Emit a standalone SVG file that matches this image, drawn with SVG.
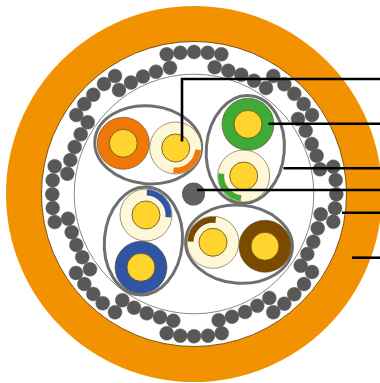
<svg xmlns="http://www.w3.org/2000/svg" width="380" height="383" viewBox="0 0 380 383">
<style>
.strand{fill:#585856;stroke:#6a6a68;stroke-width:.4}
.core{fill:#ffd42e;stroke:#5c4a1c;stroke-width:.8}
.pale{fill:#fff8d8;stroke:#5c5232;stroke-width:.6}
.sheath{fill:#fff;stroke:#6f6f6f;stroke-width:3}
.solid{stroke:#5c4a1c;stroke-width:.6}
.band{fill:none;stroke-width:6}
.leader{fill:none;stroke:#000;stroke-width:2.6}
</style>
<g id="jacket">
<circle cx="194" cy="194" r="188" fill="#f39200"/>
<circle cx="194" cy="194" r="152.5" fill="#fff" stroke="#5a3a08" stroke-width=".8"/>
<circle cx="194" cy="194" r="119.8" fill="none" stroke="#7a7a7a" stroke-width=".9"/>
</g>
<g id="shield">
<circle class="strand" cx="166.7" cy="54.3" r="7"/><circle class="strand" cx="180.3" cy="52.7" r="7"/><circle class="strand" cx="194" cy="52" r="7"/><circle class="strand" cx="207.7" cy="52.7" r="7"/><circle class="strand" cx="221.3" cy="54.3" r="7"/>
<circle class="strand" cx="214.7" cy="67.3" r="7"/><circle class="strand" cx="228.3" cy="70.7" r="7"/><circle class="strand" cx="241.3" cy="74.7" r="7"/><circle class="strand" cx="254" cy="80.7" r="7"/><circle class="strand" cx="266" cy="88" r="7"/>
<circle class="strand" cx="273.3" cy="76" r="7"/><circle class="strand" cx="284.3" cy="84.3" r="7"/><circle class="strand" cx="294.3" cy="93.7" r="7"/><circle class="strand" cx="303.7" cy="104" r="7"/><circle class="strand" cx="312" cy="115" r="7"/>
<circle class="strand" cx="298" cy="119" r="7"/><circle class="strand" cx="305.7" cy="130.7" r="7"/><circle class="strand" cx="311.7" cy="144" r="7"/><circle class="strand" cx="316.7" cy="155.7" r="7"/><circle class="strand" cx="320" cy="169.3" r="7"/>
<circle class="strand" cx="333.3" cy="166.7" r="7"/><circle class="strand" cx="335.7" cy="180" r="7"/><circle class="strand" cx="336.3" cy="194.3" r="7"/><circle class="strand" cx="335" cy="208.3" r="7"/><circle class="strand" cx="333.3" cy="221.7" r="7"/>
<circle class="strand" cx="320.7" cy="214.3" r="7"/><circle class="strand" cx="317.7" cy="228.3" r="7"/><circle class="strand" cx="313.3" cy="241.7" r="7"/><circle class="strand" cx="307.3" cy="254" r="7"/><circle class="strand" cx="300.7" cy="265.7" r="7"/>
<circle class="strand" cx="312" cy="272" r="7"/><circle class="strand" cx="304" cy="284" r="7"/><circle class="strand" cx="294.3" cy="294.3" r="7"/><circle class="strand" cx="284.3" cy="303.7" r="7"/><circle class="strand" cx="273.3" cy="312.3" r="7"/>
<circle class="strand" cx="269.3" cy="298" r="7"/><circle class="strand" cx="257.3" cy="305.7" r="7"/><circle class="strand" cx="245" cy="312" r="7"/><circle class="strand" cx="232" cy="316.7" r="7"/><circle class="strand" cx="218.7" cy="320.3" r="7"/>
<circle class="strand" cx="221.7" cy="333.3" r="7"/><circle class="strand" cx="208" cy="335.7" r="7"/><circle class="strand" cx="194" cy="336.3" r="7"/><circle class="strand" cx="180.3" cy="335.7" r="7"/><circle class="strand" cx="166.7" cy="333.3" r="7"/>
<circle class="strand" cx="173.3" cy="320.7" r="7"/><circle class="strand" cx="160" cy="317.3" r="7"/><circle class="strand" cx="146.7" cy="313.3" r="7"/><circle class="strand" cx="134" cy="307.7" r="7"/><circle class="strand" cx="122.3" cy="300.3" r="7"/>
<circle class="strand" cx="115" cy="312.3" r="7"/><circle class="strand" cx="102.7" cy="303.3" r="7"/><circle class="strand" cx="93.3" cy="294" r="7"/><circle class="strand" cx="84.3" cy="284" r="7"/><circle class="strand" cx="76" cy="273" r="7"/>
<circle class="strand" cx="90" cy="269.3" r="7"/><circle class="strand" cx="82.3" cy="257.3" r="7"/><circle class="strand" cx="76.3" cy="245" r="7"/><circle class="strand" cx="71.7" cy="232.3" r="7"/><circle class="strand" cx="68" cy="218.7" r="7"/>
<circle class="strand" cx="54.7" cy="222" r="7"/><circle class="strand" cx="52.7" cy="208" r="7"/><circle class="strand" cx="52.3" cy="194.3" r="7"/><circle class="strand" cx="52.7" cy="180.3" r="7"/><circle class="strand" cx="54.7" cy="166.3" r="7"/>
<circle class="strand" cx="67.3" cy="173.7" r="7"/><circle class="strand" cx="70.3" cy="160" r="7"/><circle class="strand" cx="74.7" cy="147" r="7"/><circle class="strand" cx="80.7" cy="134.3" r="7"/><circle class="strand" cx="87.7" cy="122.3" r="7"/>
<circle class="strand" cx="76.3" cy="115" r="7"/><circle class="strand" cx="84.3" cy="104" r="7"/><circle class="strand" cx="93.3" cy="94.7" r="7"/><circle class="strand" cx="104" cy="84" r="7"/><circle class="strand" cx="115" cy="76" r="7"/>
<circle class="strand" cx="119" cy="90" r="7"/><circle class="strand" cx="131" cy="82.5" r="7"/><circle class="strand" cx="143" cy="76.5" r="7"/><circle class="strand" cx="156" cy="71.7" r="7"/><circle class="strand" cx="170" cy="67.7" r="7"/>
</g>
<g id="pair-orange">
<ellipse class="sheath" cx="148.2" cy="144.8" rx="53.5" ry="39" transform="rotate(5 148.2 144.8)"/>
<circle class="solid" cx="123.3" cy="143.3" r="26" fill="#f07808"/><circle class="core" cx="123.3" cy="143.3" r="14"/>
<circle class="pale" cx="175.7" cy="148" r="26"/>
<path class="band" stroke="#f07808" d="M198.1 149.8A22.5 22.5 0 0 1 173.4 170.4"/>
<circle class="core" cx="175.7" cy="148" r="14"/>
</g>
<g id="pair-green">
<ellipse class="sheath" cx="245.3" cy="149.5" rx="39" ry="54" transform="rotate(5 245.3 149.5)"/>
<circle class="solid" cx="248" cy="124.3" r="26" fill="#3faa35"/><circle class="core" cx="248" cy="124.3" r="14"/>
<circle class="pale" cx="243.7" cy="176" r="26"/>
<path class="band" stroke="#3faa35" d="M221.3 173.6A22.5 22.5 0 0 0 241 198.3"/>
<circle class="core" cx="243.7" cy="176" r="14"/>
</g>
<g id="pair-blue">
<ellipse class="sheath" cx="143.4" cy="241" rx="39" ry="54" transform="rotate(5 143.4 241)"/>
<circle class="pale" cx="146" cy="215" r="26"/>
<path class="band" stroke="#2f55a4" d="M146.8 192.5A22.5 22.5 0 0 1 168.4 217.3"/>
<circle class="core" cx="146" cy="215" r="14"/>
<circle class="solid" cx="141" cy="267.3" r="26" fill="#2f55a4"/><circle class="core" cx="141" cy="267.3" r="14"/>
</g>
<g id="pair-brown">
<ellipse class="sheath" cx="239" cy="244.2" rx="53.5" ry="39" transform="rotate(5 239 244.2)"/>
<circle class="pale" cx="213" cy="242.3" r="26"/>
<path class="band" stroke="#7a4a00" d="M215.7 219.9A22.5 22.5 0 0 0 190.5 241.6"/>
<circle class="core" cx="213" cy="242.3" r="14"/>
<circle class="solid" cx="265" cy="246.3" r="26" fill="#7a4a00"/><circle class="core" cx="265" cy="246.3" r="14"/>
</g>
<g id="filler"><circle cx="193.5" cy="194" r="11.5" fill="#606060"/></g>
<g id="connectors">
<path class="leader" d="M182 141.5V79H380"/>
<path class="leader" d="M268.5 123.7H380"/>
<path class="leader" d="M283.5 168.3H380"/>
<path class="leader" d="M197 190H380"/>
<path class="leader" d="M342 212.7H380"/>
<path class="leader" d="M352 257.7H380"/>
</g>
</svg>
